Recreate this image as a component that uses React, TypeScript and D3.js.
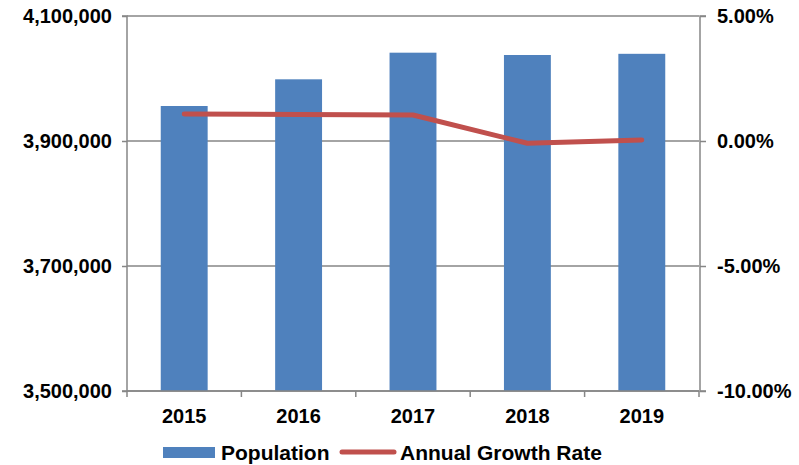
import * as d3 from 'd3';
import { useEffect, useRef } from 'react';

const years = ['2015', '2016', '2017', '2018', '2019'];
const population = [3956000, 3998700, 4041300, 4037600, 4039500];
const growthRate = [1.08, 1.06, 1.04, -0.09, 0.04];
const leftTicks = [3500000, 3700000, 3900000, 4100000];
const rightTicks = [-10, -5, 0, 5];

export default function App() {
  const ref = useRef<SVGSVGElement>(null);

  useEffect(() => {
    const svg = d3.select(ref.current);
    svg.selectAll('*').remove();

    const width = 799, height = 465;
    const margin = { top: 16, right: 100, bottom: 74, left: 127 };
    const font = '"Liberation Sans", Arial, sans-serif';
    const gray = '#868686';

    const x = d3.scaleBand().domain(years).range([margin.left, width - margin.right]).padding(0);
    const y = d3.scaleLinear().domain([3500000, 4100000]).range([height - margin.bottom, margin.top]);
    const y2 = d3.scaleLinear().domain([-10, 5]).range([height - margin.bottom, margin.top]);

    // gridlines
    svg.append('g').selectAll('line').data(leftTicks).join('line')
      .attr('x1', margin.left).attr('x2', width - margin.right)
      .attr('y1', (d) => y(d)).attr('y2', (d) => y(d))
      .attr('stroke', gray).attr('stroke-width', 1.5);

    // bars
    const barW = x.bandwidth() * 0.41;
    svg.append('g').selectAll('rect').data(population).join('rect')
      .attr('x', (d, i) => x(years[i])! + (x.bandwidth() - barW) / 2)
      .attr('y', (d) => y(d))
      .attr('width', barW)
      .attr('height', (d) => y(3500000) - y(d))
      .attr('fill', '#4F81BD');

    // line
    const line = d3.line<number>()
      .x((d, i) => x(years[i])! + x.bandwidth() / 2)
      .y((d) => y2(d));
    svg.append('path').datum(growthRate)
      .attr('d', line)
      .attr('fill', 'none')
      .attr('stroke', '#C0504D')
      .attr('stroke-width', 5)
      .attr('stroke-linecap', 'round')
      .attr('stroke-linejoin', 'round');

    const pct = (d: number) => (d < 0 ? '-' : '') + Math.abs(d).toFixed(2) + '%';

    // left axis
    const left = svg.append('g').attr('transform', `translate(${margin.left},0)`)
      .call(d3.axisLeft(y).tickValues(leftTicks).tickSize(5).tickPadding(10).tickFormat(d3.format(',')));
    // right axis
    const right = svg.append('g').attr('transform', `translate(${width - margin.right + 1},0)`)
      .call(d3.axisRight(y2).tickValues(rightTicks).tickSize(6).tickPadding(11).tickFormat((d) => pct(d as number)));
    // bottom axis
    const bottom = svg.append('g').attr('transform', `translate(0,${height - margin.bottom})`)
      .call(d3.axisBottom(x).tickSize(6).tickPadding(12));
    bottom.selectAll('.tick line').attr('transform', `translate(${-x.bandwidth() / 2},0)`);
    bottom.append('line')
      .attr('x1', width - margin.right).attr('x2', width - margin.right)
      .attr('y1', 0).attr('y2', 6).attr('stroke', gray).attr('stroke-width', 1.5);

    for (const g of [left, right, bottom]) {
      g.select('.domain').attr('stroke', gray).attr('stroke-width', 1.5);
      g.selectAll('.tick line').attr('stroke', gray).attr('stroke-width', 1.5);
      g.selectAll('text')
        .attr('fill', '#000')
        .style('font-family', font)
        .style('font-weight', 'bold')
        .style('font-size', '20px');
    }
    bottom.selectAll('text').style('font-size', '20px');
    right.select('.domain').attr('d', `M6,${margin.top}H0V${height - margin.bottom}H6`);
    left.select('.domain').attr('d', `M-5,${margin.top}H0V${height - margin.bottom}H-5`);
    bottom.select('.domain').attr('d', `M${margin.left},0H${width - margin.right}`);

    // legend
    const lg = svg.append('g').attr('transform', 'translate(0,452)');
    lg.append('rect').attr('x', 163).attr('y', -5).attr('width', 52).attr('height', 11).attr('fill', '#4F81BD');
    lg.append('text').attr('x', 221).attr('y', 8).text('Population');
    lg.append('line').attr('x1', 342).attr('x2', 394).attr('y1', 0).attr('y2', 0)
      .attr('stroke', '#C0504D').attr('stroke-width', 5).attr('stroke-linecap', 'round');
    lg.append('text').attr('x', 400).attr('y', 8).text('Annual Growth Rate');
    lg.selectAll('text')
      .style('font-family', font)
      .style('font-weight', 'bold')
      .style('font-size', '21px');
  }, []);

  return (
    <div style={{ position: 'absolute', left: 0, top: 0 }}>
      <svg ref={ref} width={799} height={465} style={{ display: 'block', background: '#fff' }} />
    </div>
  );
}
